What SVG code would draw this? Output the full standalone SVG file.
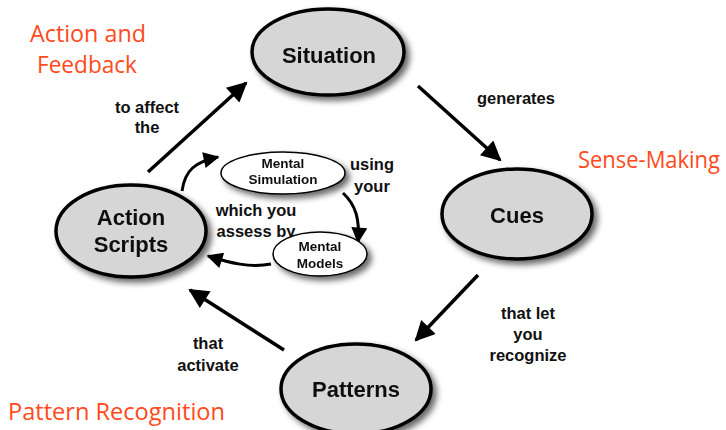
<svg xmlns="http://www.w3.org/2000/svg" width="726" height="430" viewBox="0 0 726 430">
<style>
  .big { fill: #d6d6d6; stroke: #000; stroke-width: 3.5; }
  .small { fill: #fff; stroke: #000; stroke-width: 1.5; }
  .nt { font-family: "Liberation Sans", Arial, sans-serif; font-weight: bold; fill: #111; text-anchor: middle; }
  .lbl { font-family: "Liberation Sans", Arial, sans-serif; font-weight: bold; font-size: 16.5px; fill: #111; text-anchor: middle; }
  .stage { font-family: "Open Sans", "Liberation Sans", sans-serif; font-size: 23px; fill: #ff4a1c; }
  .edge { fill: none; stroke: #000; stroke-width: 3.5; }
  .edge2 { fill: none; stroke: #000; stroke-width: 3; }
</style>
<defs>
  <filter id="shadow" x="-20%" y="-20%" width="150%" height="150%">
    <feGaussianBlur in="SourceAlpha" stdDeviation="3"/>
    <feOffset dx="4" dy="4" result="b"/>
    <feComponentTransfer><feFuncA type="linear" slope="0.6"/></feComponentTransfer>
    <feMerge><feMergeNode/><feMergeNode in="SourceGraphic"/></feMerge>
  </filter>
  <marker id="big" viewBox="0 0 10 10" refX="9" refY="5" markerWidth="22" markerHeight="20" markerUnits="userSpaceOnUse" orient="auto">
    <path d="M0,0 L10,5 L0,10 z" fill="#000"/>
  </marker>
  <marker id="mid" viewBox="0 0 10 10" refX="9" refY="5" markerWidth="18" markerHeight="16" markerUnits="userSpaceOnUse" orient="auto">
    <path d="M0,0 L10,5 L0,10 z" fill="#000"/>
  </marker>
</defs>

<rect width="726" height="430" fill="#fff"/>

<!-- stage captions -->
<text class="stage" x="30" y="42" textLength="116" lengthAdjust="spacingAndGlyphs">Action and</text>
<text class="stage" x="37" y="73" textLength="100" lengthAdjust="spacingAndGlyphs">Feedback</text>
<text class="stage" x="578" y="168" textLength="142" lengthAdjust="spacingAndGlyphs">Sense-Making</text>
<text class="stage" x="8" y="420" textLength="217" lengthAdjust="spacingAndGlyphs">Pattern Recognition</text>

<!-- connectors -->
<g id="connectors">
  <path class="edge" d="M148,172 L246,83" marker-end="url(#big)"/>
  <path class="edge" d="M418,86 L500,160" marker-end="url(#big)"/>
  <path class="edge" d="M478,275 L416,340" marker-end="url(#big)"/>
  <path class="edge" d="M284,350 L190,290" marker-end="url(#big)"/>
  <path class="edge2" d="M182,191 C185,170 195,162 218,157" marker-end="url(#mid)"/>
  <path class="edge2" d="M343,193 C356,205 360,220 358,242" marker-end="url(#mid)"/>
  <path class="edge2" d="M271,264 C250,268 230,263 208,256" marker-end="url(#mid)"/>
</g>

<!-- edge labels -->
<text class="lbl" x="147" y="113">to affect</text>
<text class="lbl" x="147" y="133">the</text>
<text class="lbl" x="516" y="104">generates</text>
<text class="lbl" x="528" y="319">that let</text>
<text class="lbl" x="528" y="340">you</text>
<text class="lbl" x="528" y="361">recognize</text>
<text class="lbl" x="208" y="349">that</text>
<text class="lbl" x="208" y="371">activate</text>
<text class="lbl" x="372" y="170">using</text>
<text class="lbl" x="372" y="192">your</text>
<text class="lbl" x="256" y="216">which you</text>
<text class="lbl" x="256" y="237">assess by</text>

<!-- nodes -->
<g id="situation" filter="url(#shadow)">
  <ellipse class="big" cx="328" cy="52" rx="76" ry="43"/>
  <text class="nt" x="329" y="63" font-size="22">Situation</text>
</g>
<g id="cues" filter="url(#shadow)">
  <ellipse class="big" cx="517" cy="214" rx="75" ry="45"/>
  <text class="nt" x="517" y="223" font-size="22">Cues</text>
</g>
<g id="patterns" filter="url(#shadow)">
  <ellipse class="big" cx="356" cy="389" rx="75" ry="45"/>
  <text class="nt" x="356" y="397" font-size="22">Patterns</text>
</g>
<g id="action-scripts" filter="url(#shadow)">
  <ellipse class="big" cx="131" cy="231" rx="75" ry="46"/>
  <text class="nt" x="131" y="225" font-size="22">Action</text>
  <text class="nt" x="131" y="252" font-size="22">Scripts</text>
</g>
<g id="mental-simulation" filter="url(#shadow)">
  <ellipse class="small" cx="283" cy="173" rx="62" ry="21"/>
  <text class="nt" x="283" y="168" font-size="13.5">Mental</text>
  <text class="nt" x="283" y="184" font-size="13.5">Simulation</text>
</g>
<g id="mental-models" filter="url(#shadow)">
  <ellipse class="small" cx="320" cy="254" rx="47" ry="22"/>
  <text class="nt" x="320" y="251" font-size="13.5">Mental</text>
  <text class="nt" x="320" y="268" font-size="13.5">Models</text>
</g>
</svg>
